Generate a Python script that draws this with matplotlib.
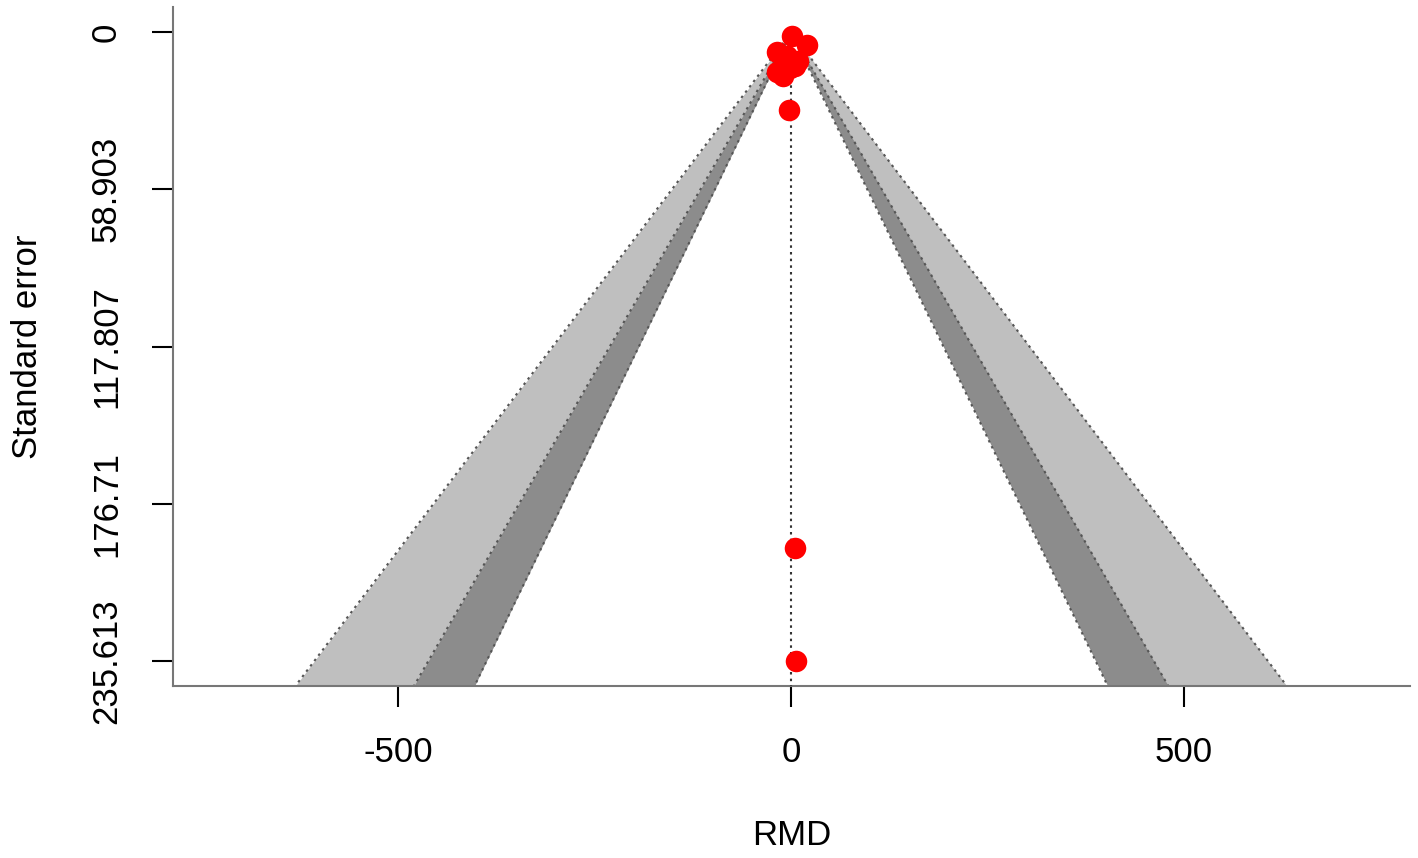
import numpy as np
import matplotlib
matplotlib.use('Agg')
import matplotlib.pyplot as plt

plt.rcParams['font.family'] = ['Liberation Sans', 'DejaVu Sans']

# estudios: diferencia de medias (RMD) y error estándar
rmd = [1.3, 20, -18, -5, 9, -18, -10, -1, 5, -2.5, 5, 6.4]
se = [1.5, 4.9, 7.5, 9.0, 10.9, 15.0, 16.5, 13.5, 12.8, 29.3, 193.2, 235.613]

niveles_z = [1.645, 1.96, 2.576]          # 90 %, 95 %, 99 %
sombras = ['white', '#8C8C8C', '#BFBFBF']
yticks = [0, 58.903, 117.807, 176.71, 235.613]
yticklabels = ['0', '58.903', '117.807', '176.71', '235.613']
xticks = [-500, 0, 500]

se_max = max(se)
ylim = (se_max * 1.04, -se_max * 0.04)
xlim = (-787, 788)

fig = plt.figure(figsize=(14.18, 8.58), dpi=100)
ax = fig.add_axes([173 / 1418, 1 - 686 / 858, (1410 - 173) / 1418, (686 - 7) / 858])

se_vals = np.array([0, ylim[0]])
# polígonos de contorno, del más ancho al más estrecho
for z, col in zip(niveles_z[::-1], sombras[::-1]):
    ax.fill_betweenx(se_vals, -z * se_vals, z * se_vals, color=col, lw=0, zorder=1)
for z in niveles_z:
    ax.plot(-z * se_vals, se_vals, color='#555555', lw=1.5, ls=(0, (1.2, 2)), zorder=2)
    ax.plot(z * se_vals, se_vals, color='#555555', lw=1.5, ls=(0, (1.2, 2)), zorder=2)

ax.plot([0, 0], se_vals, color='#333333', lw=1.5, ls=(0, (1.2, 2)), zorder=3)
ax.plot(rmd, se, 'o', color='#FF0000', ms=15.5, mec='none', zorder=4)

ax.set_xlim(*xlim)
ax.set_ylim(*ylim)
ax.set_xticks(xticks)
ax.set_xticklabels([str(v) for v in xticks])
ax.set_yticks(yticks)
ax.set_yticklabels(yticklabels, rotation=90, va='center')

ax.spines['top'].set_visible(False)
ax.spines['right'].set_visible(False)
for s in ['left', 'bottom']:
    ax.spines[s].set_color('#777777')
    ax.spines[s].set_linewidth(1.5)
ax.tick_params(length=15, width=1.5, color='black', labelsize=25, pad=21)

ax.set_xlabel('RMD', fontsize=25, labelpad=36)
ax.set_ylabel('Standard error', fontsize=25, labelpad=33)

fig.savefig('out.png', dpi=100)
